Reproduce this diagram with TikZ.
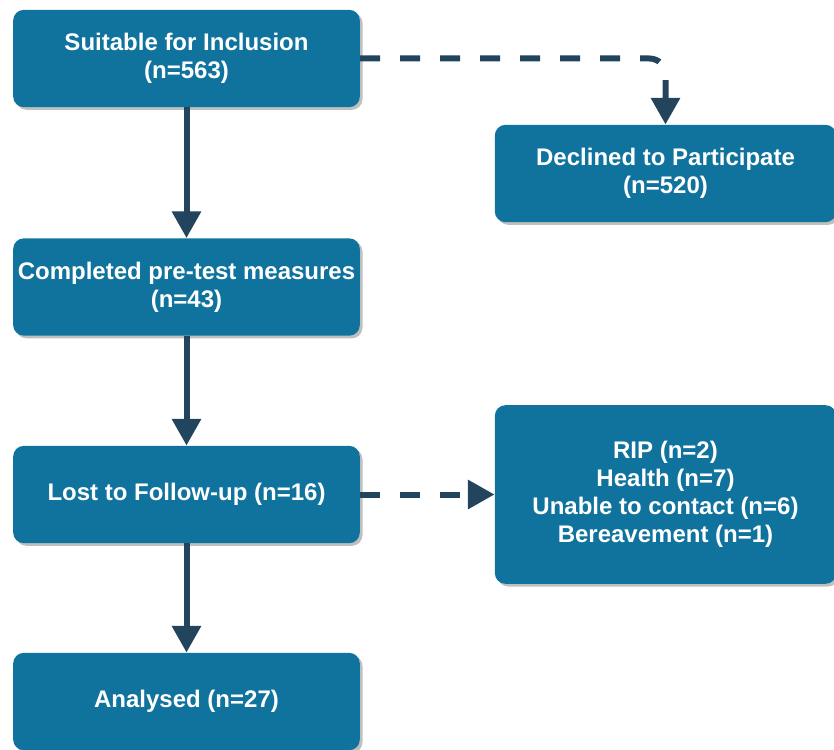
\documentclass[tikz,border=0pt]{standalone}
\usepackage{fontspec}
\setmainfont{Liberation Sans}
\usetikzlibrary{arrows.meta,shadows}
\definecolor{boxblue}{HTML}{10739E}
\definecolor{flowdark}{HTML}{23445D}
\begin{document}
\begin{tikzpicture}[x=0.75pt,y=-0.75pt,
  box/.style={fill=boxblue, rounded corners=8pt, text=white, align=center,
    font=\bfseries\fontsize{18}{21}\selectfont, inner sep=0pt,
    minimum width=260pt, minimum height=73pt,
    drop shadow={shadow xshift=2pt, shadow yshift=-2pt, fill=black, opacity=0.25}},
  flow/.style={draw=flowdark, line width=4.5pt, -{Triangle[length=20pt,width=21pt]}},
  skip/.style={flow, dash pattern=on 15pt off 15pt}]
\useasboundingbox (0,0) rectangle (834,749);

\node[box] (incl) at (186.5,58.5) {Suitable for Inclusion\\(n=563)};
\node[box, minimum width=256pt] (decl) at (665.5,173.5) {Declined to Participate\\(n=520)};
\node[box] (pretest) at (186.5,287) {Completed pre-test measures\\(n=43)};
\node[box] (lost) at (186.5,494.5) {Lost to Follow-up (n=16)};
\node[box, minimum width=256pt, minimum height=134pt] (reasons) at (665.5,494.5)
  {RIP (n=2)\\Health (n=7)\\Unable to contact (n=6)\\Bereavement (n=1)};
\node[box] (analysed) at (186.5,701.5) {Analysed (n=27)};

\draw[flow] (incl) -- (pretest);
\draw[flow] (pretest) -- (lost);
\draw[flow] (lost) -- (analysed);
\draw[skip, rounded corners=12pt] (incl.east) -| (decl.north);
\draw[skip] (lost) -- (reasons);
\end{tikzpicture}
\end{document}
